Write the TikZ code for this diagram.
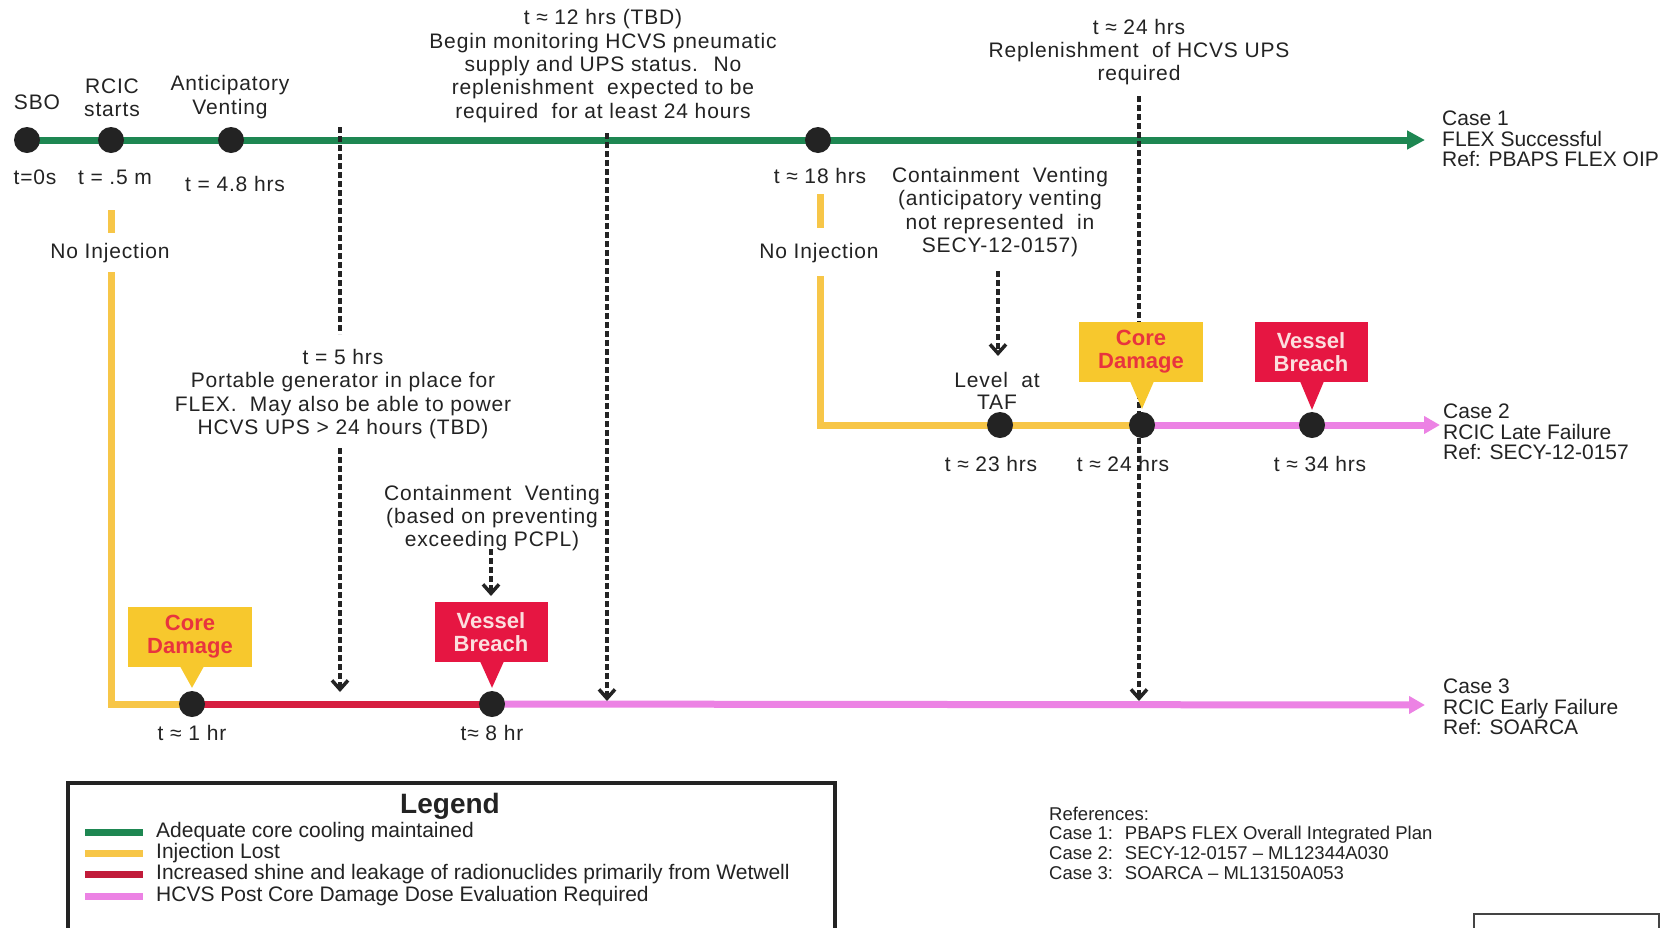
\documentclass[tikz,border=0pt]{standalone}
\usepackage{fontspec}
\setmainfont{Liberation Sans}
\newfontfamily\spacedfont{Liberation Sans}[LetterSpace=4]
\usetikzlibrary{arrows.meta,calc}
\pgfdeclarelayer{bgflow}
\pgfdeclarelayer{bgdash}
\pgfsetlayers{bgflow,bgdash,main}

\definecolor{flowgreen}{RGB}{30,135,82}
\definecolor{flowyellow}{RGB}{247,198,72}
\definecolor{flowred}{RGB}{214,30,64}
\definecolor{flowpink}{RGB}{236,130,228}
\definecolor{txt}{RGB}{35,35,35}
\definecolor{dotc}{RGB}{35,35,35}
\definecolor{cdyel}{RGB}{247,200,45}
\definecolor{cdred}{RGB}{232,52,62}
\definecolor{vbred}{RGB}{230,22,66}
\definecolor{vbtxt}{RGB}{252,222,222}

\begin{document}
\begin{tikzpicture}[x=1pt,y=-1pt,
 lbl/.style={font=\spacedfont\fontsize{21}{23.3}\selectfont,text=txt,align=center,inner sep=0pt},
 caselbl/.style={font=\fontsize{21}{20.5}\selectfont,text=txt,align=left,anchor=west,inner sep=0pt},
 reflbl/.style={font=\fontsize{18.5}{19.7}\selectfont,text=txt,align=left,anchor=west,inner sep=0pt},
 leglbl/.style={font=\fontsize{21}{21}\selectfont,text=txt,anchor=west,inner sep=0pt},
 evt/.style={circle,fill=dotc,minimum size=26pt,inner sep=0pt},
 flow/.style={line width=7pt},
 vdash/.style={draw=dotc,line width=3.5pt,dash pattern=on 6pt off 3pt},
 vtip/.style={-{Straight Barb[length=9pt,width=16pt]}},
 bigtip/.style={-{Triangle[length=18pt,width=18pt]}},
 pinktip/.style={-{Triangle[length=16pt,width=17pt]}},
 cdbox/.style={fill=cdyel,text=cdred,font=\bfseries\fontsize{22}{23}\selectfont,minimum width=124pt,minimum height=60pt,align=center,inner sep=0pt},
 vbbox/.style={fill=vbred,text=vbtxt,font=\bfseries\fontsize{22}{22.5}\selectfont,minimum width=113pt,minimum height=60pt,align=center,inner sep=0pt},
]
\useasboundingbox (0,0) rectangle (1665,927);
\begin{pgfonlayer}{bgflow}
\fill[white] (0,0) rectangle (1665,927);
\end{pgfonlayer}

% event dots
\node[evt] (sbo) at (27,140) {};
\node[evt] (rcic) at (111,140) {};
\node[evt] (antv) at (231,140) {};
\node[evt] (h18) at (818,140) {};
\node[evt] (taf) at (1000,425) {};
\node[evt] (cd2) at (1142,425) {};
\node[evt] (vb2) at (1312,425) {};
\node[evt] (cd3) at (192,704) {};
\node[evt] (vb3) at (492,704) {};

% free ends
\coordinate (c1end) at (1425,140);
\coordinate (c2end) at (1440,425);
\coordinate (c3end) at (1425,705);
\coordinate (ni1top) at (111,210);
\coordinate (ni1bot) at (111,233);
\coordinate (ni1low) at (111,272);
\coordinate (ni2top) at (820,194);
\coordinate (ni2bot) at (820,228);
\coordinate (ni2low) at (820,276);
\coordinate (d5a) at (340,127);
\coordinate (d5b) at (340,334);
\coordinate (d5c) at (340,448);
\coordinate (d5d) at (340,692);
\coordinate (d12a) at (607,133);
\coordinate (d12b) at (607,701);
\coordinate (d24a) at (1139,96);
\coordinate (d24b) at (1139,701);
\coordinate (dcv2a) at (998,271);
\coordinate (dcv2b) at (998,356);
\coordinate (dcv3a) at (491,549);
\coordinate (dcv3b) at (491,596);

% flows
\begin{pgfonlayer}{bgflow}
\draw[flow,flowgreen,bigtip] (sbo.center) -- (c1end);
\draw[flow,flowyellow] (ni1top) -- (ni1bot);
\draw[flow,flowyellow] (ni1low) |- (cd3.center);
\draw[flow,flowred] (cd3.center) -- (vb3.center);
\draw[flow,flowpink,pinktip] (vb3.center) -- (c3end);
\draw[flow,flowyellow] (ni2top) -- (ni2bot);
\draw[flow,flowyellow] (ni2low) |- (taf.center) -- (cd2.center);
\draw[flow,flowpink] (cd2.center) -- (vb2.center);
\draw[flow,flowpink,pinktip] (vb2.center) -- (c2end);
\end{pgfonlayer}

% dashed markers
\begin{pgfonlayer}{bgdash}
\draw[vdash] (d5a) -- (d5b);
\draw[vdash,vtip] (d5c) -- (d5d);
\draw[vdash,vtip] (d12a) -- (d12b);
\draw[vdash,vtip] (d24a) -- (d24b);
\draw[vdash,vtip] (dcv2a) -- (dcv2b);
\draw[vdash,vtip] (dcv3a) -- (dcv3b);
\end{pgfonlayer}

% labels on top timeline
\node[lbl] (sbol) at (37,102) {SBO};
\node[lbl] (rcicl) at (112,98) {RCIC\\starts};
\node[lbl] (antl) at (230,97) {Anticipatory\\Venting};
\node[lbl] (t0) at (35,177) {t=0s};
\node[lbl] (t05) at (115,177) {t = .5 m};
\node[lbl] (t48) at (235,184) {t = 4.8 hrs};
\node[lbl] (t18) at (820,176) {t ≈ 18 hrs};
\node[lbl] (ni1) at (110,253) {No Injection};
\node[lbl] (ni2) at (819,253) {No Injection};
\node[lbl] (n12) at (603,66) {t ≈ 12 hrs (TBD)\\Begin monitoring HCVS pneumatic\\supply and UPS status.~ No\\replenishment~ expected to be\\required~ for at least 24 hours};
\node[lbl] (n24) at (1139,52) {t ≈ 24 hrs\\Replenishment~ of HCVS UPS\\required};
\node[lbl] (n5) at (343,394) {t = 5 hrs\\Portable generator in place for\\FLEX.~ May also be able to power\\HCVS UPS > 24 hours (TBD)};
\node[lbl] (cv2) at (1000,212) {Containment~ Venting\\(anticipatory venting\\not represented~ in\\SECY-12-0157)};
\node[lbl] (cv3) at (492,518) {Containment~ Venting\\(based on preventing\\exceeding PCPL)};
\node[lbl,font=\spacedfont\fontsize{21}{22}\selectfont] (tafl) at (997,391) {Level~ at\\TAF};
\node[lbl] (t23) at (991,464) {t ≈ 23 hrs};
\node[lbl] (t24) at (1123,464) {t ≈ 24 hrs};
\node[lbl] (t34) at (1320,464) {t ≈ 34 hrs};
\node[lbl] (t1) at (192,733) {t ≈ 1 hr};
\node[lbl] (t8) at (492,733) {t≈ 8 hr};

% callouts
\node[cdbox] (cd2box) at (1141,352) {Core\\Damage};
\fill[cdyel] ($(cd2 |- cd2box.south)+(-12,-1)$) -- ($(cd2 |- cd2box.south)+(12,-1)$) -- ($(cd2.north)+(0,-3)$) -- cycle;
\node[vbbox] (vb2box) at (1311,352) {Vessel\\Breach};
\fill[vbred] ($(vb2 |- vb2box.south)+(-12,-1)$) -- ($(vb2 |- vb2box.south)+(12,-1)$) -- ($(vb2.north)+(0,-2)$) -- cycle;
\node[cdbox] (cd3box) at (190,637) {Core\\Damage};
\fill[cdyel] ($(cd3 |- cd3box.south)+(-12,-1)$) -- ($(cd3 |- cd3box.south)+(12,-1)$) -- ($(cd3.north)+(0,-3)$) -- cycle;
\node[vbbox] (vb3box) at (491,632) {Vessel\\Breach};
\fill[vbred] ($(vb3 |- vb3box.south)+(-12,-1)$) -- ($(vb3 |- vb3box.south)+(12,-1)$) -- ($(vb3.north)+(0,-3)$) -- cycle;

% case labels
\node[caselbl] (case1) at (1442,139) {Case 1\\FLEX Successful\\Ref: PBAPS FLEX OIP};
\node[caselbl] (case2) at (1443,432) {Case 2\\RCIC Late Failure\\Ref: SECY-12-0157};
\node[caselbl] (case3) at (1443,707) {Case 3\\RCIC Early Failure\\Ref: SOARCA};

% legend
\begin{scope}
\clip (0,0) rectangle (1665,927);
\draw[line width=3.5pt,dotc] (68,783) rectangle (835,960);
\draw[line width=2.5pt,dotc!85] (1474,914) rectangle (1659,960);
\end{scope}
\node[font=\bfseries\fontsize{28}{28}\selectfont,text=txt,inner sep=0pt] (legt) at (450,806) {Legend};
\draw[flowgreen,line width=7pt] (85,832) -- (143,832);
\node[leglbl] (leg1) at (156,832) {Adequate core cooling maintained};
\draw[flowyellow,line width=7pt] (85,853) -- (143,853);
\node[leglbl] (leg2) at (156,853) {Injection Lost};
\draw[flowred!90!black,line width=7pt] (85,874) -- (143,874);
\node[leglbl] (leg3) at (156,874) {Increased shine and leakage of radionuclides primarily from Wetwell};
\draw[flowpink,line width=7pt] (85,896) -- (143,896);
\node[leglbl] (leg4) at (156,896) {HCVS Post Core Damage Dose Evaluation Required};

% references
\node[reflbl] (refs) at (1049,843) {References:\\Case 1:~ PBAPS FLEX Overall Integrated Plan\\Case 2:~ SECY-12-0157 -- ML12344A030\\Case 3:~ SOARCA -- ML13150A053};
\end{tikzpicture}
\end{document}
